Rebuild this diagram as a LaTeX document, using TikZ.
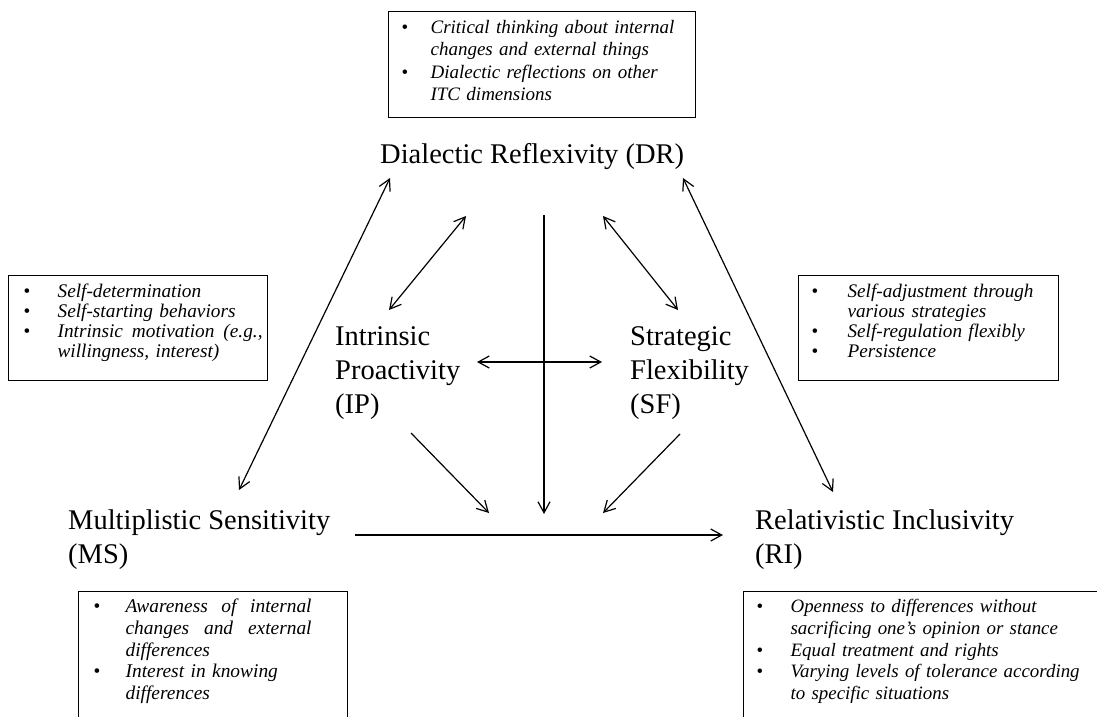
\documentclass[tikz,border=0pt]{standalone}
\usepackage{fontspec}
\setmainfont{Liberation Serif}
\usetikzlibrary{arrows.meta,calc}
\setlength{\parindent}{0pt}

% one bullet point: #1 = bullet offset, #2 = text indent, #3 = text
\newcommand{\bitem}[3]{\noindent\hangindent=#2\hangafter=1\makebox[#2][l]{\hspace*{#1}\textbullet}\textit{#3}\par}
% a justified line: word spaces stretched to fill width #1
\newcommand{\jline}[2]{\hbox to #1{\spaceskip=0.25em plus 1fil\relax #2}}

\begin{document}
\begin{tikzpicture}[x=1pt,y=-1pt,
  lab/.style={font=\fontsize{28.5}{34}\selectfont, inner sep=0pt, anchor=base west, align=left},
  notebox/.style={draw, line width=1.2pt, anchor=north west, inner xsep=0pt, inner ysep=0pt,
                  align=left, text height=22pt},
  link/.style={line width=1.2pt, {Straight Barb[length=11pt,width=12pt]}-{Straight Barb[length=11pt,width=12pt]}},
  flow/.style={line width=1.2pt, -{Straight Barb[length=11pt,width=12pt]}}]
\useasboundingbox (0,0) rectangle (1097,717);
\clip (0,0) rectangle (1097,717);

% dimensions (multi-line labels sit on the baseline of their last line)
\node[lab] (DR) at (380,163) {Dialectic Reflexivity (DR)};
\node[lab] (IP) at (335,413) {Intrinsic\\Proactivity\\(IP)};
\node[lab] (SF) at (630,413) {Strategic\\Flexibility\\(SF)};
\node[lab] (MS) at (68,563) {Multiplistic Sensitivity\\(MS)};
\node[lab] (RI) at (755,563) {Relativistic Inclusivity\\(RI)};

% descriptions
\node[notebox, text width=307pt, text depth=84pt,
      font=\fontsize{19}{22.3}\selectfont] (DRnote) at (388,11) {%
  \bitem{13pt}{42pt}{Critical thinking about internal\newline changes and external things}%
  \bitem{13pt}{42pt}{Dialectic reflections on other\newline ITC dimensions}};
\node[notebox, text width=259pt, text depth=83pt,
      font=\fontsize{19.3}{20}\selectfont] (IPnote) at (8,275) {%
  \bitem{15pt}{49pt}{Self-determination}%
  \bitem{15pt}{49pt}{Self-starting behaviors}%
  \bitem{15pt}{49pt}{\jline{205pt}{Intrinsic motivation (e.g.,}\newline willingness, interest)}};
\node[notebox, text width=260pt, text depth=83pt,
      font=\fontsize{19.2}{20}\selectfont] (SFnote) at (798,275) {%
  \bitem{13pt}{49pt}{Self-adjustment through\newline various strategies}%
  \bitem{13pt}{49pt}{Self-regulation flexibly}%
  \bitem{13pt}{49pt}{Persistence}};
\node[notebox, text width=269pt, text depth=150pt, text height=21pt,
      font=\fontsize{19.4}{21.7}\selectfont] (MSnote) at (78,591) {%
  \bitem{15pt}{47pt}{\jline{186pt}{Awareness of internal}\newline
                     \jline{186pt}{changes and external}\newline differences}%
  \bitem{15pt}{47pt}{Interest in knowing\newline differences}};
\node[notebox, text width=420pt, text depth=150pt, text height=21pt,
      font=\fontsize{18.9}{21.7}\selectfont] (RInote) at (743,591) {%
  \bitem{13pt}{47pt}{Openness to differences without\newline sacrificing one’s opinion or stance}%
  \bitem{13pt}{47pt}{Equal treatment and rights}%
  \bitem{13pt}{47pt}{Varying levels of tolerance according\newline to specific situations}};

% where the three moderating paths meet the MS -> RI path
\coordinate (meetIP) at (489,513);
\coordinate (meetDR) at (544,514);
\coordinate (meetSF) at (603,513);

% connectors
\draw[link] ([shift={(10,15)}]DR.base west) -- ([shift={(171,-73)}]MS.base west);
\draw[link] ([shift={(303,15)}]DR.base west) -- ([shift={(78,-71)}]RI.base west);
\draw[link] ([shift={(86,53)}]DR.base west) -- ([shift={(54,-103)}]IP.base west);
\draw[link] ([shift={(223,53)}]DR.base west) -- ([shift={(48,-103)}]SF.base west);
\draw[link] ([shift={(142,-51)}]IP.base west) -- ([shift={(-28,-51)}]SF.base west);
\draw[flow] ([shift={(164,52)}]DR.base west) -- (meetDR);
\draw[flow] ([shift={(76,20)}]IP.base west) -- (meetIP);
\draw[flow] ([shift={(50,21)}]SF.base west) -- (meetSF);
\draw[flow] ([shift={(287,-28)}]MS.base west) -- ([shift={(-32,-28)}]RI.base west);
\end{tikzpicture}
\end{document}
